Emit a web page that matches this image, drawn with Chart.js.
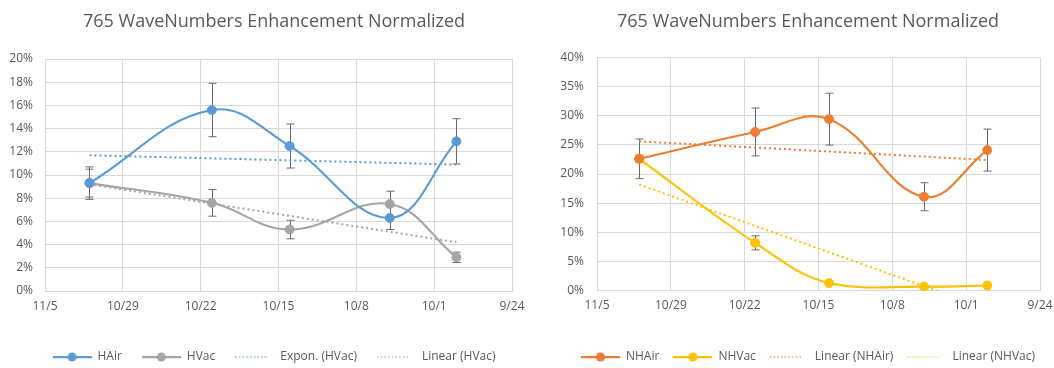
<!DOCTYPE html>
<html>
<head>
<meta charset="utf-8">
<script src="https://cdn.jsdelivr.net/npm/chart.js@4/dist/chart.umd.min.js"></script>
<style>
  html, body { margin: 0; padding: 0; background: #ffffff; overflow: hidden; }
  body { width: 1054px; height: 368px; position: relative; }
  canvas { position: absolute; top: 0; }
  #left { left: 0; }
  #right { left: 527px; }
</style>
</head>
<body>
<canvas id="left" width="548" height="373"></canvas>
<canvas id="right" width="562" height="373"></canvas>
<script>
// Sampling dates (month/day) and the date ticks of the reversed time axis
const sampleDates = ['11/1', '10/21', '10/14', '10/5', '9/29'];
const tickDates = ['11/5', '10/29', '10/22', '10/15', '10/8', '10/1', '9/24'];

// Enhancement, normalized (%), with +/- error amounts
const hAir = [9.3, 15.6, 12.5, 6.3, 12.9];
const hAirErr = [1.2, 2.3, 1.9, 1.0, 1.95];
const hVac = [9.3, 7.6, 5.3, 7.5, 2.9];
const hVacErr = [1.4, 1.15, 0.8, 1.1, 0.45];

const nhAir = [22.6, 27.2, 29.4, 16.1, 24.1];
const nhAirErr = [3.4, 4.1, 4.45, 2.4, 3.6];
const nhVac = [22.6, 8.2, 1.3, 0.7, 0.9];
const nhVacErr = [0.6, 1.2, 0.3, 0.2, 0.2];

// Trendline end values (first sample, last sample)
const hAirTrend = [11.7, 10.9];
const hVacTrend = [9.2, 4.2];
const nhAirTrend = [25.6, 22.4];
const nhVacTrend = [18.2, -3.1];

// Value-axis ticks (%)
const leftYTicks = [0, 2, 4, 6, 8, 10, 12, 14, 16, 18, 20];
const rightYTicks = [0, 5, 10, 15, 20, 25, 30, 35, 40];

const titleText = '765 WaveNumbers Enhancement Normalized';

const FONT = "'Open Sans', 'DejaVu Sans', sans-serif";
const TEXT = '#595959';
const GRID = '#d9d9d9';

function dayOf(md) {
  const [m, d] = md.split('/').map(Number);
  return Math.round(Date.UTC(2023, m - 1, d) / 86400000);
}
function labelOf(day) {
  const dt = new Date(day * 86400000);
  return (dt.getUTCMonth() + 1) + '/' + dt.getUTCDate();
}

function points(values) {
  return values.map((v, i) => ({ x: dayOf(sampleDates[i]), y: v }));
}
function trendPoints(ends) {
  return [
    { x: dayOf(sampleDates[0]), y: ends[0] },
    { x: dayOf(sampleDates[sampleDates.length - 1]), y: ends[1] }
  ];
}

function seriesSet(label, values, errors, color) {
  return {
    label, data: points(values), errors,
    borderColor: color, backgroundColor: color,
    borderWidth: 2.1, tension: 0.4,
    pointRadius: 4.5, pointBorderWidth: 1,
    pointBackgroundColor: color, pointBorderColor: color,
    keyKind: 'marker'
  };
}
function trendSet(label, ends, color) {
  return {
    label, data: trendPoints(ends),
    borderColor: color, backgroundColor: color,
    borderWidth: 2, borderDash: [2, 3], tension: 0,
    pointRadius: 0, keyKind: 'dots'
  };
}

// Legend key: a short line (with a marker for the data series)
function legendKey(ds) {
  const c = document.createElement('canvas');
  c.width = 39; c.height = 12;
  const g = c.getContext('2d');
  g.strokeStyle = ds.borderColor;
  if (ds.keyKind === 'dots') {
    g.globalAlpha = 0.75;
    g.lineWidth = 1.5;
    g.setLineDash([1.5, 2.2]);
    g.beginPath(); g.moveTo(0, 6); g.lineTo(32, 6); g.stroke();
  } else {
    g.lineWidth = 2.25;
    g.beginPath(); g.moveTo(0, 6); g.lineTo(39, 6); g.stroke();
    g.fillStyle = ds.borderColor;
    g.beginPath(); g.arc(19.5, 6, 4.5, 0, Math.PI * 2); g.fill();
  }
  return c;
}

// Vertical error bars with end caps
const errorBars = {
  id: 'errorBars',
  beforeDatasetsDraw(chart) {
    const { ctx, scales: { x, y } } = chart;
    ctx.save();
    ctx.strokeStyle = '#6a6a6a';
    ctx.lineWidth = 1;
    chart.data.datasets.forEach(ds => {
      if (!ds.errors) return;
      ds.data.forEach((p, i) => {
        const e = ds.errors[i];
        const px = Math.round(x.getPixelForValue(p.x)) + 0.5;
        const top = y.getPixelForValue(p.y + e);
        const bot = y.getPixelForValue(p.y - e);
        ctx.beginPath();
        ctx.moveTo(px, top); ctx.lineTo(px, bot);
        ctx.moveTo(px - 4, top); ctx.lineTo(px + 4, top);
        ctx.moveTo(px - 4, bot); ctx.lineTo(px + 4, bot);
        ctx.stroke();
      });
    });
    ctx.restore();
  }
};

function makeChart(id, datasets, yTicks, geo) {
  return new Chart(document.getElementById(id), {
    type: 'line',
    data: { datasets },
    plugins: [errorBars],
    options: {
      responsive: false,
      animation: false,
      events: [],
      layout: { padding: 0 },
      plugins: {
        title: {
          display: true, text: titleText, color: TEXT,
          font: { family: FONT, size: 18, weight: 'normal' },
          padding: { top: 11.2, bottom: geo.titleBottom }
        },
        legend: {
          position: 'bottom',
          labels: {
            color: TEXT, font: { family: FONT, size: 12 },
            usePointStyle: true, pointStyleWidth: 39, padding: geo.legendGap,
            generateLabels(chart) {
              const items = Chart.defaults.plugins.legend.labels.generateLabels(chart);
              items.forEach(it => { it.pointStyle = legendKey(chart.data.datasets[it.datasetIndex]); });
              return items;
            }
          }
        },
        tooltip: { enabled: false }
      },
      scales: {
        x: {
          type: 'linear', reverse: true,
          min: dayOf(tickDates[tickDates.length - 1]), max: dayOf(tickDates[0]),
          afterBuildTicks(s) { s.ticks = tickDates.map(t => ({ value: dayOf(t) })); },
          afterFit(s) { s.height = geo.xHeight; s.paddingLeft = 0; s.paddingRight = geo.plotRightPad; },
          ticks: { color: TEXT, font: { family: FONT, size: 12 }, padding: 8, maxRotation: 0, autoSkip: false,
                   callback: v => labelOf(v) },
          grid: { color: GRID, drawTicks: false },
          border: { color: GRID }
        },
        y: {
          min: yTicks[0], max: yTicks[yTicks.length - 1],
          afterBuildTicks(s) { s.ticks = yTicks.map(v => ({ value: v })); },
          afterFit(s) { s.width = geo.yWidth; },
          ticks: { color: TEXT, font: { family: FONT, size: 12 }, padding: geo.yTickPad,
                   callback: v => v + '%' },
          grid: { color: GRID, drawTicks: false },
          border: { color: GRID }
        }
      }
    }
  });
}

makeChart('left', [
  seriesSet('HAir', hAir, hAirErr, '#5b9bd5'),
  seriesSet('HVac', hVac, hVacErr, '#a5a5a5'),
  trendSet('Expon. (HVac)', hAirTrend, '#5b9bd5'),
  trendSet('Linear (HVac)', hVacTrend, '#a5a5a5')
], leftYTicks, { yWidth: 45, yTickPad: 12, plotRightPad: 36, titleBottom: 26.2, legendGap: 20, xHeight: 40 });

makeChart('right', [
  seriesSet('NHAir', nhAir, nhAirErr, '#ed7d31'),
  seriesSet('NHVac', nhVac, nhVacErr, '#ffc000'),
  trendSet('Linear (NHAir)', nhAirTrend, '#ed7d31'),
  trendSet('Linear (NHVac)', nhVacTrend, '#ffc000')
], rightYTicks, { yWidth: 70, yTickPad: 13, plotRightPad: 49, titleBottom: 24.5, legendGap: 14, xHeight: 46.3 });
</script>
</body>
</html>
